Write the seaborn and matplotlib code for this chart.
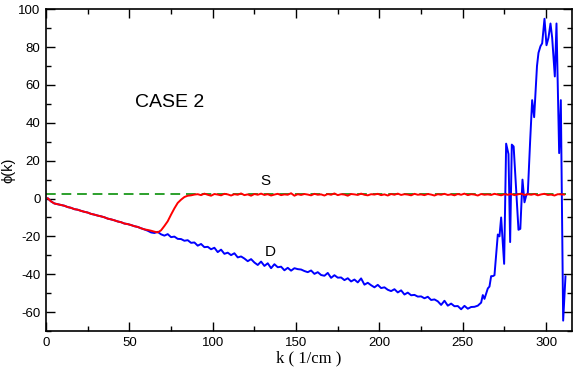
import numpy as np
import pandas as pd
import matplotlib
matplotlib.use("Agg")
import matplotlib.pyplot as plt
import seaborn as sns
from matplotlib.ticker import MultipleLocator

# S curve, k = 1, 3, 5, ... 311
s_k = list(range(1, 312, 2))
s_phi = [
    0.2, -1.5, -2.6, -3.0, -3.4, -3.8, -4.5, -4.9, -5.6, -5.9,
    -6.5, -7.0, -7.4, -8.1, -8.5, -9.0, -9.4, -9.9, -10.6, -11.0,
    -11.5, -12.1, -12.5, -13.2, -13.5, -14.0, -14.6, -15.0, -15.7, -16.3,
    -16.6, -17.0, -17.5, -17.9, -16.8, -14.5, -12.0, -8.5, -5.2, -2.3,
    -0.6, 0.8, 1.5, 1.7, 2.1,
    2.3, 1.8, 2.6, 2.0, 1.5, 2.4, 2.1, 1.7, 2.5, 2.2,
    1.6, 2.3, 2.0, 2.7, 1.8, 2.2, 1.5, 2.4, 2.0, 2.6,
    1.9, 2.3, 1.6, 2.1, 2.5, 1.8, 2.2, 2.0, 2.8, 1.5,
    2.3, 1.9, 2.4, 2.1, 1.7, 2.5, 2.0, 2.2, 1.6, 2.4,
    2.0, 2.7, 1.8, 2.3, 2.1, 1.5, 2.4, 2.2, 1.9, 2.6,
    2.0, 1.7, 2.3, 2.1, 2.5, 1.8, 2.2, 1.6, 2.4, 2.0,
    2.6, 1.9, 2.3, 2.1, 1.7, 2.5, 2.0, 2.2, 1.8, 2.4,
    2.1, 1.6, 2.3, 2.0, 2.5, 1.9, 2.2, 1.7, 2.4, 2.0,
    2.6, 1.8, 2.3, 2.1, 1.6, 2.4, 2.0, 2.2, 1.9, 2.5,
    2.1, 1.7, 2.3, 2.0, 2.4, 1.8, 2.2, 2.6, 1.9, 2.3,
    2.0, 2.4, 1.7, 2.2, 2.5, 1.9, 2.1, 1.6, 2.3, 2.2,
    2.1,
]

# D curve: same as S up to k~59, then its own branch
d_k = list(range(1, 260, 2)) + [
    261, 262, 263, 265, 266, 267, 268, 269, 271, 272,
    273, 274.8, 276, 277.4, 278.4, 279.4, 280.5, 283.4, 284.5, 285.8,
    287, 288, 289, 290.4, 291.6, 292.8, 294.5, 295.4, 296.6, 297.6,
    299.0, 300.2, 301.4, 302.6, 303.6, 305.2, 306.2, 307.8, 308.8, 310.2,
    311.6,
]
d_phi = s_phi[:30] + [
    -17.0, -17.9, -18.2, -17.6, -18.9, -19.6, -18.8, -20.4, -20.1, -21.3,
    -21.4, -22.3, -22.0, -23.4, -23.2, -24.9, -24.0, -25.7, -25.5, -26.8,
    -26.0, -28.3, -27.0, -29.2, -28.6, -29.9, -28.9, -31.1, -30.6, -31.7,
    -33.1, -32.0, -33.8, -35.1, -33.3, -35.6, -34.2, -36.8, -34.7, -36.3,
    -36.0, -37.9, -36.6, -38.1, -36.8, -37.3, -37.5, -38.3, -38.9, -38.0,
    -39.8, -38.9, -40.4, -40.8, -39.3, -41.9, -40.5, -41.8, -41.7, -43.1,
    -42.1, -43.8, -42.8, -44.3, -42.2, -45.5, -44.5, -45.8, -46.9, -45.6,
    -47.3, -46.9, -48.2, -48.9, -47.9, -49.6, -48.5, -50.7, -49.7, -51.1,
    -50.9, -51.8, -51.7, -52.7, -51.9, -53.6, -53.3, -54.3, -56.2, -54.0,
    -56.6, -55.5, -56.9, -56.8, -58.5, -56.7, -58.2, -57.3, -57.2, -56.6,
    -55.0, -51.0, -53.0, -47.5, -46.5, -41.0, -41.0, -40.5, -19.0, -20.0,
    -10.0, -34.5, 29.0, 23.5, -23.0, 28.5, 27.5, -16.5, -16.0, 10.0,
    -2.0, 1.5, 3.0, 30.5, 52.0, 43.0, 70.0, 77.0, 80.5, 82.0,
    95.0, 81.0, 85.0, 92.5, 85.0, 64.5, 92.5, 24.0, 52.0, -64.5,
    -41.0,
]

ref_k = [0, 312]
ref_phi = [2.3, 2.3]

df_s = pd.DataFrame({"k": s_k, "phi": s_phi})
df_d = pd.DataFrame({"k": d_k, "phi": d_phi})
df_ref = pd.DataFrame({"k": ref_k, "phi": ref_phi})

sns.set_style("ticks")
plt.rcParams["font.family"] = ["Liberation Sans", "DejaVu Sans"]
plt.rcParams["axes.unicode_minus"] = False
plt.rcParams["text.color"] = "black"
plt.rcParams["axes.labelcolor"] = "black"

fig = plt.figure(figsize=(5.81, 3.67), dpi=100)
ax = fig.add_axes([0.0792, 0.098, 0.9053, 0.8767])

sns.lineplot(data=df_ref, x="k", y="phi", ax=ax, color="#2ca02c",
             linestyle=(0, (5, 3)), linewidth=1.4, sort=False)
sns.lineplot(data=df_d, x="k", y="phi", ax=ax, color="#0000ff",
             linewidth=1.4, sort=False)
sns.lineplot(data=df_s, x="k", y="phi", ax=ax, color="#ff0000",
             linewidth=1.4, sort=False)

ax.set_xlim(0, 315.5)
ax.set_ylim(-70, 100)
ax.xaxis.set_major_locator(MultipleLocator(50))
ax.xaxis.set_minor_locator(MultipleLocator(25))
ax.yaxis.set_major_locator(MultipleLocator(20))
ax.yaxis.set_minor_locator(MultipleLocator(10))
ax.tick_params(which="both", direction="in", top=True, right=True,
               labelsize=9.5, colors="black", width=1.0)
ax.tick_params(which="major", length=6.5, pad=4)
ax.tick_params(which="minor", length=3.5)
for sp in ax.spines.values():
    sp.set_linewidth(1.2)
    sp.set_color("black")

ax.set_xlabel("k ( 1/cm )", family=["Liberation Serif", "DejaVu Serif"],
              fontsize=12, labelpad=1)
ax.set_ylabel("ϕ(k)", fontsize=10.5, labelpad=2)

ax.text(53.5, 51, "CASE 2", fontsize=14, ha="left", va="center")
ax.text(131.5, 9.5, "S", fontsize=11, ha="center", va="center")
ax.text(134.5, -28, "D", fontsize=11, ha="center", va="center")

fig.savefig("out.png", dpi=100)
